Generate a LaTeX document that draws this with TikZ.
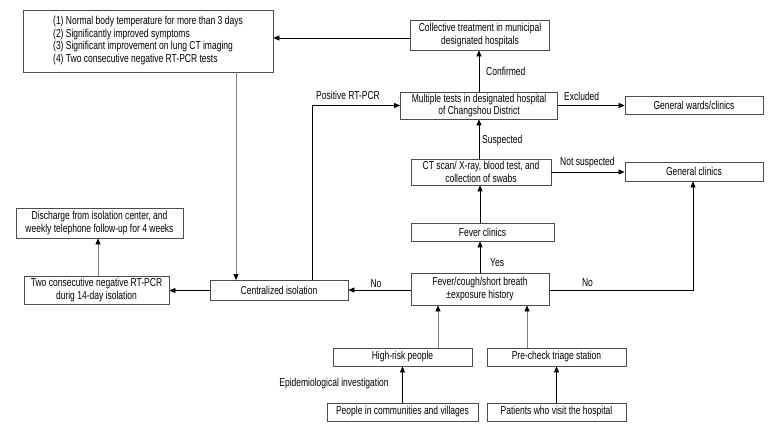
\documentclass[tikz,border=0pt]{standalone}
\usepackage{fontspec}
\setmainfont[FakeStretch=0.74]{Liberation Sans}
\usetikzlibrary{arrows.meta}
\begin{document}
\begin{tikzpicture}[x=1pt,y=-1pt,
        box/.style={draw=black!70,line width=0.8pt,inner sep=0pt,align=center,font=\fontsize{11.5}{12.8}\selectfont},
        lab/.style={inner sep=0pt,font=\fontsize{11.5}{12.8}\selectfont},
        arr/.style={-{Triangle[length=6pt,width=5pt]},line width=0.7pt},
        garr/.style={-{Triangle[length=6pt,width=5pt,black]},line width=0.8pt,draw=black!50}]
        \useasboundingbox (0,0) rectangle (780,432);
        % boxes
        \node[box,minimum width=250pt,minimum height=62pt] (crit) at (148,41) {\begin{tabular}{@{}l@{}}(1) Normal body temperature for more than 3 days\\(2) Significantly improved symptoms\\(3) Significant improvement on lung CT imaging\\(4) Two consecutive negative RT-PCR tests\end{tabular}};
        \node[box,minimum width=139pt,minimum height=30pt] (coll) at (480,35) {Collective treatment in municipal\\designated hospitals};
        \node[box,minimum width=157pt,minimum height=27pt] (multi) at (479,105.5) {Multiple tests in designated hospital\\of Changshou District};
        \node[box,minimum width=138pt,minimum height=18pt] (wards) at (694,105) {General wards/clinics};
        \node[box,minimum width=140pt,minimum height=26pt] (ct) at (481,172) {CT scan/ X-ray, blood test, and\\collection of swabs};
        \node[box,minimum width=138pt,minimum height=19pt] (genc) at (694,171.5) {General clinics};
        \node[box,minimum width=143pt,minimum height=18pt] (fevc) at (482.5,232) {Fever clinics};
        \node[box,minimum width=138pt,minimum height=32pt] (fever) at (480,289) {Fever/cough/short breath\\±exposure history};
        \node[box,minimum width=138pt,minimum height=20pt] (cent) at (279,290.5) {Centralized isolation};
        \node[box,minimum width=145pt,minimum height=28pt] (twoneg) at (96.5,290) {Two consecutive negative RT-PCR\\durig 14-day isolation};
        \node[box,minimum width=167pt,minimum height=30pt] (disch) at (99.5,223) {Discharge from isolation center, and\\weekly telephone follow-up for 4 weeks};
        \node[box,minimum width=139pt,minimum height=18pt] (high) at (402.5,357) {High-risk people};
        \node[box,minimum width=139pt,minimum height=18pt] (pre) at (556.5,357) {Pre-check triage station};
        \node[box,minimum width=151pt,minimum height=18pt] (people) at (402.5,412) {People in communities and villages};
        \node[box,minimum width=139pt,minimum height=18pt] (patients) at (556.5,412) {Patients who visit the hospital};
        % helper columns
        \coordinate (dropx) at (236,0);
        \coordinate (posx) at (312,0);
        \coordinate (hrx) at (438,0);
        \coordinate (prx) at (527,0);
        \coordinate (nox) at (693,0);
        % connectors
        \draw[arr] (coll.west |- 0,38) -- (crit.east |- 0,38);
        \draw[garr] (crit.south -| dropx) -- (cent.north -| dropx);
        \draw[arr] (cent.north -| posx) |- (multi.west);
        \draw[arr] (multi.north) -- (coll.south -| multi.north);
        \draw[arr] (multi.east) -- (wards.west |- multi.east);
        \draw[arr] (ct.north -| multi.south) -- (multi.south);
        \draw[arr] (ct.east) -- (genc.west |- ct.east);
        \draw[arr] (fevc.north -| fever.north) -- (ct.south -| fever.north);
        \draw[arr] (fever.north) -- (fevc.south -| fever.north);
        \draw[arr] (fever.east |- 0,290) -| (genc.south -| nox);
        \draw[arr] (fever.west |- 0,290) -- (cent.east |- 0,290);
        \draw[arr] (cent.west) -- (twoneg.east |- cent.west);
        \draw[garr] (twoneg.north -| 98,0) -- (disch.south -| 98,0);
        \draw[garr] (high.north -| hrx) -- (fever.south -| hrx);
        \draw[garr] (pre.north -| prx) -- (fever.south -| prx);
        \draw[arr] (people.north) -- (high.south);
        \draw[arr] (patients.north) -- (pre.south);
        % labels
        \node[lab,anchor=west] (lconf) at (486,71) {Confirmed};
        \node[lab,anchor=west] (lexcl) at (564,96) {Excluded};
        \node[lab,anchor=west] (lsusp) at (482,141) {Suspected};
        \node[lab,anchor=west] (lnots) at (560,163) {Not suspected};
        \node[lab,anchor=west] (lyes) at (490,263) {Yes};
        \node[lab] (lnol) at (376,284) {No};
        \node[lab] (lnor) at (587.5,283) {No};
        \node[lab,anchor=west] (lpos) at (316,95) {Positive RT-PCR};
        \node[lab] (lepi) at (334,384) {Epidemiological investigation};
\end{tikzpicture}
\end{document}
